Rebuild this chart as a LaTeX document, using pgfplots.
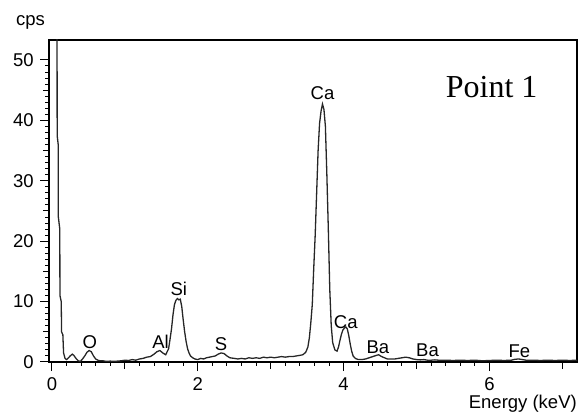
\documentclass[border=0pt]{standalone}
\usepackage{fontspec}
\setmainfont{Liberation Sans}
\newfontfamily\timesfont{Liberation Serif}
\usepackage{pgfplots}
\pgfplotsset{compat=1.18}

\begin{document}
\fontsize{18.5}{22}\selectfont
\begin{tikzpicture}
\begin{axis}[
    name=spec,
    scale only axis,
    width=528pt, height=322pt,
    xmin=-0.04, xmax=7.2,
    ymin=0, ymax=53.3,
    xtick={0,2,4,6},
    ytick={0,10,20,30,40,50},
    minor x tick num=9,
    minor y tick num=9,
    extra x ticks={1,3,5,7},
    extra x tick labels={},
    extra y ticks={5,15,25,35,45},
    extra y tick labels={},
    extra x tick style={major tick length=7pt},
    extra y tick style={major tick length=6pt},
    tick align=outside,
    xtick pos=bottom, ytick pos=left,
    major tick length=9pt,
    minor tick length=4pt,
    tick style={black, line width=1pt},
    axis line style={black, line width=1.1pt},
    /pgf/number format/assume math mode=true,
    ticklabel style={font=\fontsize{18.5}{22}\selectfont},
    clip=true,
]
\addplot[black!85, line width=1.3pt] coordinates {
(0.07,60) (0.072,37.5) (0.086,36) (0.088,24) (0.108,22) (0.11,11) (0.128,10)
(0.132,5) (0.15,4.5) (0.16,1.5) (0.18,0.6)
(0.20,0.4) (0.22,0.6) (0.25,1.0) (0.28,1.3) (0.30,1.1) (0.33,0.6) (0.36,0.2)
(0.39,0.1) (0.42,0.5) (0.45,1.0) (0.48,1.6) (0.51,1.9) (0.54,1.7) (0.57,1.0)
(0.60,0.5) (0.63,0.3) (0.66,0.2) (0.70,0.2) (0.75,0.1) (0.80,0.15) (0.85,0.1)
(0.90,0.15) (0.95,0.2) (1.00,0.3) (1.05,0.25) (1.10,0.4) (1.15,0.3) (1.20,0.5)
(1.25,0.6) (1.30,0.8) (1.35,0.9) (1.40,1.3) (1.44,1.7) (1.48,1.9) (1.52,1.5)
(1.56,1.2) (1.60,2.2) (1.62,3.8) (1.64,5.5) (1.66,7.8) (1.68,9.5) (1.70,10.2)
(1.72,10.5) (1.74,10.3) (1.76,10.4) (1.78,9.2) (1.80,7.0) (1.82,5.0) (1.84,3.4)
(1.86,2.2) (1.88,1.5) (1.90,1.0) (1.93,0.7) (1.96,0.5) (2.00,0.4) (2.04,0.6)
(2.08,0.5) (2.12,0.7) (2.16,0.8) (2.20,0.9) (2.24,1.0) (2.28,1.3) (2.32,1.5)
(2.36,1.4) (2.40,1.0) (2.44,0.7) (2.50,0.6) (2.55,0.5) (2.60,0.6) (2.65,0.5)
(2.70,0.7) (2.75,0.6) (2.80,0.7) (2.85,0.6) (2.90,0.8) (2.95,0.7) (3.00,0.8)
(3.05,0.7) (3.10,0.8) (3.15,0.9) (3.20,0.8) (3.25,0.9) (3.30,0.9) (3.35,1.0)
(3.40,1.1) (3.44,1.2) (3.48,1.6) (3.51,2.5) (3.53,4.0) (3.55,6.5) (3.57,9.5)
(3.59,15.5) (3.61,21) (3.63,28) (3.65,35) (3.67,39.5) (3.69,41.5) (3.71,42.7)
(3.73,41.8) (3.75,39) (3.77,31) (3.79,22) (3.81,12) (3.83,6) (3.85,3.2)
(3.88,2.0) (3.91,1.8) (3.93,2.5) (3.95,3.6) (3.97,4.6) (3.99,5.3) (4.01,5.6)
(4.03,5.8) (4.05,5.5) (4.07,4.4) (4.09,3.0) (4.11,1.8) (4.13,1.0) (4.16,0.6)
(4.20,0.4) (4.25,0.4) (4.30,0.5) (4.35,0.7) (4.40,0.9) (4.45,1.1) (4.48,1.2)
(4.52,0.9) (4.56,0.7) (4.60,0.5) (4.65,0.5) (4.70,0.5) (4.75,0.6) (4.80,0.7)
(4.85,0.8) (4.90,0.7) (4.95,0.5) (5.00,0.4) (5.05,0.35) (5.10,0.4) (5.15,0.3)
(5.20,0.3) (5.25,0.35) (5.30,0.3) (5.40,0.3) (5.50,0.25) (5.60,0.3) (5.70,0.25)
(5.80,0.3) (5.90,0.2) (6.00,0.25) (6.10,0.3) (6.20,0.25) (6.30,0.3) (6.35,0.45)
(6.40,0.5) (6.45,0.4) (6.50,0.3) (6.60,0.3) (6.70,0.25) (6.80,0.3) (6.90,0.25)
(7.00,0.3) (7.10,0.25) (7.20,0.3)
};
\begin{scope}[every node/.style={anchor=base, inner sep=0pt}]
\node at (axis cs:0.52,2.2) {O};
\node at (axis cs:1.49,2.2) {Al};
\node at (axis cs:1.74,11.0) {Si};
\node at (axis cs:2.32,1.9) {S};
\node at (axis cs:3.71,43.4) {Ca};
\node at (axis cs:4.03,5.6) {Ca};
\node at (axis cs:4.47,1.4) {Ba};
\node at (axis cs:5.15,0.9) {Ba};
\node at (axis cs:6.41,0.7) {Fe};
\end{scope}
\node[anchor=base west, inner sep=0pt, font=\timesfont\fontsize{32}{36}\selectfont]
  at (axis cs:5.4,43.8) {Point 1};
\end{axis}
\node[anchor=base east, inner sep=0pt] at ([xshift=-4pt,yshift=14pt]spec.north west) {cps};
\node[anchor=base east, inner sep=0pt] at ([yshift=-46pt]spec.south east) {Energy (keV)};
\path ([xshift=-49pt,yshift=-54pt]spec.south west) rectangle ([xshift=2pt,yshift=40pt]spec.north east);
\end{tikzpicture}
\end{document}
